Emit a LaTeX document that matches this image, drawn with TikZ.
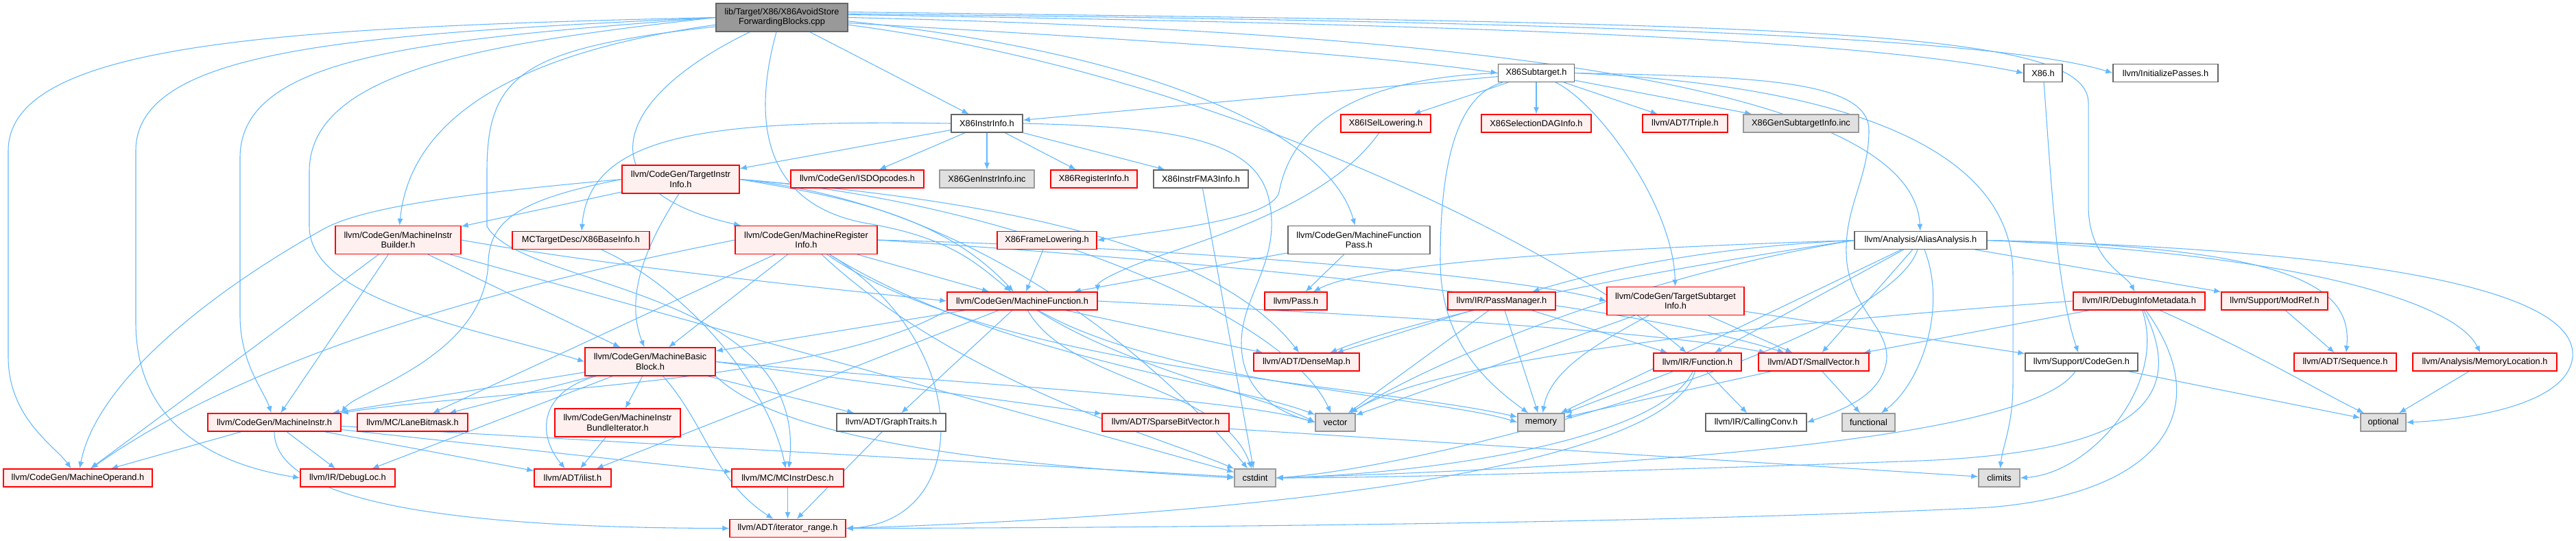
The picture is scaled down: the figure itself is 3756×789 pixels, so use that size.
\documentclass[tikz,border=0pt]{standalone}
\usepackage{fontspec}
\setmainfont{Liberation Sans}
\usetikzlibrary{arrows.meta}
\definecolor{edgeblue}{HTML}{63B8FF}
\definecolor{nred}{HTML}{FF0000}
\definecolor{nredfill}{HTML}{FFF0F0}
\definecolor{nwbd}{HTML}{666666}
\definecolor{ngbd}{HTML}{999999}
\definecolor{ngfill}{HTML}{E0E0E0}
\definecolor{rootfill}{HTML}{999999}
\pgfdeclarelayer{bg}
\pgfsetlayers{bg,main}
\tikzset{
 base/.style={draw, line width=1pt, inner xsep=2pt, inner ysep=0pt, align=center, font=\fontsize{9.6}{10.7}\selectfont, minimum height=19.5pt},
 wd/.style={minimum width=#1*0.75pt},
 tall/.style={minimum height=30.75pt},
 redn/.style={base, draw=nred, fill=nredfill},
 whiten/.style={base, draw=nwbd, fill=white},
 grayn/.style={base, draw=ngbd, fill=ngfill},
 rootn/.style={base, draw=nwbd, fill=rootfill, tall},
 dep/.style={draw=edgeblue, line width=0.8pt, -{Latex[length=7.5pt,width=6pt]}},
}
\begin{document}
\begin{tikzpicture}[x=0.75pt,y=-0.75pt]
\useasboundingbox (0,0) rectangle (3756,789);
% nodes
\node[rootn, wd=192] (root) at (1140,25.5) {lib/Target/X86/X86AvoidStore\\ForwardingBlocks.cpp};
\node[whiten, wd=111] (x86sub) at (2240,106.5) {X86Subtarget.h};
\node[whiten, wd=56] (x86h) at (2979,106.5) {X86.h};
\node[whiten, wd=153] (initp) at (3157.5,106.5) {llvm/InitializePasses.h};
\node[whiten, wd=104] (x86ii) at (1439,180) {X86InstrInfo.h};
\node[redn, wd=131] (isel) at (2020.5,180) {X86ISelLowering.h};
\node[redn, wd=160] (seldag) at (2240,180) {X86SelectionDAGInfo.h};
\node[redn, wd=124] (triple) at (2457,180) {llvm/ADT/Triple.h};
\node[grayn, wd=168] (gensub) at (2626,180) {X86GenSubtargetInfo.inc};
\node[redn, wd=171, tall] (tii) at (992.5,261.5) {llvm/CodeGen/TargetInstr\\Info.h};
\node[redn, wd=194] (isd) at (1250,261) {llvm/CodeGen/ISDOpcodes.h};
\node[grayn, wd=138] (genii) at (1439,261) {X86GenInstrInfo.inc};
\node[redn, wd=126] (x86ri) at (1595,261) {X86RegisterInfo.h};
\node[whiten, wd=138] (fma3) at (1751,261) {X86InstrFMA3Info.h};
\node[redn, wd=183, tall] (mib) at (580.5,350) {llvm/CodeGen/MachineInstr\\Builder.h};
\node[redn, wd=200] (baseinfo) at (847,350.5) {MCTargetDesc/X86BaseInfo.h};
\node[redn, wd=207, tall] (mri) at (1175.5,350) {llvm/CodeGen/MachineRegister\\Info.h};
\node[redn, wd=145] (framel) at (1526.5,350.5) {X86FrameLowering.h};
\node[whiten, wd=207, tall] (mfp) at (1981.5,350) {llvm/CodeGen/MachineFunction\\Pass.h};
\node[whiten, wd=193] (aa) at (2800.5,350.5) {llvm/Analysis/AliasAnalysis.h};
\node[redn, wd=219] (mf) at (1490.5,439) {llvm/CodeGen/MachineFunction.h};
\node[redn, wd=91] (pass) at (1889.5,439) {llvm/Pass.h};
\node[redn, wd=157] (pm) at (2189.5,439) {llvm/IR/PassManager.h};
\node[redn, wd=200, tall] (tsi) at (2443,439) {llvm/CodeGen/TargetSubtarget\\Info.h};
\node[redn, wd=192] (dim) at (3119,439) {llvm/IR/DebugInfoMetadata.h};
\node[redn, wd=155] (modref) at (3316.5,439) {llvm/Support/ModRef.h};
\node[redn, wd=190, tall] (mbb) at (948,527.5) {llvm/CodeGen/MachineBasic\\Block.h};
\node[redn, wd=154] (densemap) at (1905,528) {llvm/ADT/DenseMap.h};
\node[redn, wd=128] (func) at (2475,528) {llvm/IR/Function.h};
\node[redn, wd=161] (smallvec) at (2644.5,528) {llvm/ADT/SmallVector.h};
\node[whiten, wd=164] (cgen) at (3035,528) {llvm/Support/CodeGen.h};
\node[redn, wd=149] (seq) at (3419.5,528) {llvm/ADT/Sequence.h};
\node[redn, wd=210] (memloc) at (3623,528) {llvm/Analysis/MemoryLocation.h};
\node[redn, wd=194] (mi) at (400,616) {llvm/CodeGen/MachineInstr.h};
\node[redn, wd=161] (lanebm) at (601.5,616) {llvm/MC/LaneBitmask.h};
\node[redn, wd=183, tall] (mibi) at (900.5,616.5) {llvm/CodeGen/MachineInstr\\BundleIterator.h};
\node[whiten, wd=159] (graphtr) at (1299.5,616) {llvm/ADT/GraphTraits.h};
\node[redn, wd=185] (sbv) at (1699.5,616) {llvm/ADT/SparseBitVector.h};
\node[grayn, wd=58] (vector) at (1947,616) {vector};
\node[grayn, wd=68] (memory) at (2247,616) {memory};
\node[whiten, wd=147] (callconv) at (2560.5,616) {llvm/IR/CallingConv.h};
\node[grayn, wd=77] (functional) at (2724.5,616) {functional};
\node[grayn, wd=66] (optional) at (3475,616) {optional};
\node[redn, wd=217] (mo) at (113.5,697) {llvm/CodeGen/MachineOperand.h};
\node[redn, wd=138] (debugloc) at (507,697) {llvm/IR/DebugLoc.h};
\node[redn, wd=112] (ilist) at (835,697) {llvm/ADT/ilist.h};
\node[redn, wd=163] (mcid) at (1148.5,697) {llvm/MC/MCInstrDesc.h};
\node[grayn, wd=60] (cstdint) at (1830,697) {cstdint};
\node[grayn, wd=60] (climits) at (2915,697) {climits};
\node[redn, wd=169] (itrange) at (1148.5,770.5) {llvm/ADT/iterator\_range.h};
% edges
\begin{pgfonlayer}{bg}
\fill[white] (0,0) rectangle (3756,789);
% root
\draw[dep] (root.west) .. controls (420,40) and (12,60) .. (12,220) -- (12,520) .. controls (12,610) and (80,650) .. (mo);
\draw[dep] (root.west) .. controls (520,50) and (198,70) .. (198,220) -- (198,470) .. controls (198,630) and (330,680) .. (debugloc.west);
\draw[dep] (root.west) .. controls (620,58) and (350,80) .. (350,230) -- (350,460) .. controls (350,530) and (385,570) .. (mi);
\draw[dep] (root.west) .. controls (720,62) and (451,100) .. (451,250) -- (451,330) .. controls (451,440) and (700,480) .. (mbb.west);
\draw[dep] ([yshift=-8pt]root.west) .. controls (800,70) and (600,150) .. (mib);
\draw[dep] ([yshift=-10pt]root.west) .. controls (760,70) and (710,110) .. (710,250) -- (710,330) .. controls (760,420) and (1180,420) .. (mcid);
\draw[dep] ([xshift=-35pt]root.south) .. controls (880,150) and (860,280) .. (mri);
\draw[dep] ([xshift=-6pt]root.south) .. controls (1090,200) and (1130,300) .. (1260,325) .. controls (1380,345) and (1420,380) .. (mf);
\draw[dep] (root) -- (x86ii);
\draw[dep] ([yshift=-6pt]root.east) .. controls (1700,60) and (2000,80) .. (x86sub.west);
\draw[dep] ([yshift=3pt]root.east) .. controls (2100,35) and (2700,55) .. (x86h.west);
\draw[dep] ([yshift=4pt]root.east) .. controls (2200,30) and (2900,50) .. (initp.west);
\draw[dep] (root.east) .. controls (2300,50) and (2790,150) .. (aa);
\draw[dep] ([yshift=6pt]root.east) .. controls (2600,35) and (3045,40) .. (3045,150) -- (3045,300) .. controls (3045,380) and (3100,400) .. (dim);
\draw[dep] ([yshift=-8pt]root.east) .. controls (1800,110) and (2300,380) .. (func);
\draw[dep] ([yshift=-4pt]root.east) .. controls (1700,80) and (1940,200) .. (mfp);
% X86Subtarget
\draw[dep] (x86sub) -- (isel);
\draw[dep] (x86sub) -- (seldag);
\draw[dep] (x86sub) -- (triple);
\draw[dep] (x86sub) -- (gensub);
\draw[dep] (x86sub) -- (x86ii);
\draw[dep] (x86sub.west) .. controls (1950,115) and (1880,200) .. (1865,280) .. controls (1855,320) and (1700,335) .. (framel.east);
\draw[dep] (x86sub) .. controls (2330,150) and (2440,300) .. (tsi);
\draw[dep] (x86sub) .. controls (2120,140) and (2100,250) .. (2100,380) .. controls (2100,500) and (2170,560) .. (memory);
\draw[dep] (x86sub.east) .. controls (2550,112) and (2725,115) .. (2725,190) .. controls (2725,260) and (2690,300) .. (2692,370) .. controls (2694,450) and (2760,480) .. (2750,530) .. controls (2740,580) and (2680,600) .. (callconv.east);
\draw[dep] (x86sub.east) .. controls (2700,125) and (2935,220) .. (2935,400) -- (2935,560) .. controls (2935,620) and (2920,650) .. (climits);
% X86InstrInfo
\draw[dep] (x86ii) -- (tii);
\draw[dep] (x86ii) -- (isd);
\draw[dep] (x86ii) -- (genii);
\draw[dep] (x86ii) -- (x86ri);
\draw[dep] (x86ii) -- (fma3);
\draw[dep] (x86ii.west) .. controls (1050,175) and (860,190) .. (baseinfo);
\draw[dep] (x86ii.east) .. controls (1700,185) and (1830,200) .. (1850,290) .. controls (1870,380) and (1810,430) .. (1810,500) .. controls (1810,570) and (1860,600) .. (vector.west);
\draw[dep] (fma3) -- (cstdint);
\draw[dep] (x86h) .. controls (2990,250) and (2998,420) .. (cgen);
% TargetInstrInfo
\draw[dep] (tii) -- (mib);
\draw[dep] (tii.west) .. controls (700,280) and (530,300) .. (470,335) .. controls (300,430) and (140,560) .. (mo);
\draw[dep] ([xshift=-2pt]tii.south) .. controls (960,330) and (905,420) .. (mbb);
\draw[dep] (tii.west) .. controls (760,290) and (715,320) .. (712,380) .. controls (710,520) and (520,570) .. (mi.north east);
\draw[dep] (tii.east) .. controls (1250,290) and (1380,320) .. (mf);
\draw[dep] (tii.east) .. controls (1350,285) and (1750,330) .. (densemap);
\draw[dep] (tii.east) .. controls (1450,300) and (1720,560) .. (cstdint);
\draw[dep] (tii.east) .. controls (1450,290) and (1870,450) .. (vector);
% MachineInstrBuilder
\draw[dep] (mib) -- (mo);
\draw[dep] (mib) -- (mi);
\draw[dep] (mib) -- (mbb);
\draw[dep] (mib.east) .. controls (900,390) and (1200,420) .. (mf.west);
\draw[dep] (mib) -- (cstdint);
\draw[dep] (baseinfo) .. controls (1000,420) and (1120,560) .. (mcid);
% MachineRegisterInfo
\draw[dep] (mri) -- (mbb);
\draw[dep] (mri) -- (mf);
\draw[dep] (mri.west) .. controls (900,385) and (420,480) .. (mo);
\draw[dep] (mri) .. controls (1420,500) and (1420,760) .. (itrange.east);
\draw[dep] (mri.east) .. controls (1900,390) and (2400,450) .. (smallvec);
\draw[dep] (mri.east) .. controls (1700,360) and (2200,400) .. (tsi.west);
\draw[dep] (mri) -- (lanebm);
\draw[dep] (mri) .. controls (1400,560) and (1700,640) .. (cstdint);
\draw[dep] (mri) .. controls (1450,540) and (2000,560) .. (memory);
\draw[dep] (mri) .. controls (1450,520) and (1800,560) .. (vector);
\draw[dep] (framel) -- (mf);
\draw[dep] (isel) .. controls (1950,280) and (1820,330) .. (1700,370) .. controls (1640,390) and (1600,410) .. (mf.north east);
\draw[dep] (mfp) -- (mf);
\draw[dep] (mfp) -- (pass);
% AliasAnalysis
\draw[dep] (aa.west) .. controls (2500,380) and (2100,450) .. (densemap);
\draw[dep] (aa.east) .. controls (3350,360) and (3430,420) .. (seq);
\draw[dep] (aa) -- (smallvec);
\draw[dep] (aa.east) .. controls (3350,370) and (3580,440) .. (memloc);
\draw[dep] (aa) -- (func);
\draw[dep] (aa.west) .. controls (2500,360) and (2350,390) .. (pm);
\draw[dep] (aa.west) .. controls (2400,360) and (2000,380) .. (pass);
\draw[dep] (aa) -- (modref);
\draw[dep] (aa) .. controls (2750,500) and (2100,680) .. (cstdint.east);
\draw[dep] (aa) .. controls (2840,450) and (2800,560) .. (functional);
\draw[dep] (aa) -- (memory);
\draw[dep] (aa.east) .. controls (3300,360) and (3760,400) .. (3751,520) .. controls (3745,590) and (3600,612) .. (optional.east);
\draw[dep] (aa.west) .. controls (2400,400) and (2100,520) .. (vector);
% DebugInfoMetadata
\draw[dep] (dim) -- (smallvec);
\draw[dep] (dim) .. controls (3235,600) and (3150,720) .. (2900,740) .. controls (2400,765) and (1600,770) .. (itrange.east);
\draw[dep] (dim) .. controls (3200,600) and (3080,660) .. (2800,672) .. controls (2300,690) and (2000,697) .. (cstdint.east);
\draw[dep] (dim) .. controls (3160,560) and (3050,690) .. (climits.east);
\draw[dep] (dim) .. controls (3300,520) and (3380,570) .. (optional);
\draw[dep] (dim.west) .. controls (2600,470) and (2100,520) .. (vector);
% PassManager, TargetSubtargetInfo, Function
\draw[dep] (pm) -- (densemap);
\draw[dep] (pm) -- (vector);
\draw[dep] (pm) -- (memory);
\draw[dep] (pm) -- (func);
\draw[dep] (tsi) -- (smallvec);
\draw[dep] (tsi) -- (cgen);
\draw[dep] (tsi) .. controls (2330,500) and (2260,540) .. (memory);
\draw[dep] (tsi) -- (vector);
\draw[dep] (func) .. controls (2440,660) and (2000,745) .. (itrange.east);
\draw[dep] (func) -- (callconv);
\draw[dep] (func) .. controls (2420,640) and (2100,690) .. (cstdint.east);
\draw[dep] (func) -- (memory);
\draw[dep] (smallvec) -- (functional);
\draw[dep] (smallvec) -- (memory);
\draw[dep] (modref) -- (seq);
\draw[dep] (memloc) -- (optional);
\draw[dep] (cgen) .. controls (2960,640) and (2400,680) .. (cstdint.east);
\draw[dep] (cgen) -- (optional);
% MachineFunction
\draw[dep] (mf) -- (densemap);
\draw[dep] (mf) -- (graphtr);
\draw[dep] (mf.east) .. controls (2000,460) and (2400,480) .. (smallvec);
\draw[dep] (mf) -- (ilist);
\draw[dep] (mf) -- (mbb);
\draw[dep] (mf.south west) .. controls (1200,560) and (700,570) .. (mi.north east);
\draw[dep] (mf) .. controls (1560,560) and (1780,560) .. (cstdint);
\draw[dep] (mf) .. controls (1700,560) and (2100,580) .. (memory.west);
\draw[dep] (mf) .. controls (1650,540) and (1850,580) .. (vector.west);
% MachineBasicBlock
\draw[dep] (mbb) -- (graphtr);
\draw[dep] (mbb.east) -- (sbv);
\draw[dep] (mbb) .. controls (790,570) and (780,630) .. (ilist);
\draw[dep] (mbb) .. controls (1030,620) and (1040,700) .. (itrange);
\draw[dep] (mbb) -- (mi);
\draw[dep] (mbb) -- (mibi);
\draw[dep] (mbb) -- (debugloc);
\draw[dep] (mbb) -- (lanebm);
\draw[dep] (mbb.south east) .. controls (1150,650) and (1500,680) .. (cstdint.west);
\draw[dep] (mbb.east) .. controls (1400,560) and (1800,580) .. (vector.west);
% MachineInstr
\draw[dep] (mi) -- (mo);
\draw[dep] (mi) -- (debugloc);
\draw[dep] (mi) .. controls (400,740) and (700,770) .. (itrange.west);
\draw[dep] (mi) -- (ilist);
\draw[dep] (mi) -- (mcid);
\draw[dep] (mi) -- (cstdint);
\draw[dep] (mibi) -- (ilist);
\draw[dep] (graphtr) -- (itrange);
\draw[dep] ([yshift=-7pt]sbv.east) -- (climits);
\draw[dep] (mcid) -- (itrange);
\end{pgfonlayer}
\end{tikzpicture}
\end{document}
